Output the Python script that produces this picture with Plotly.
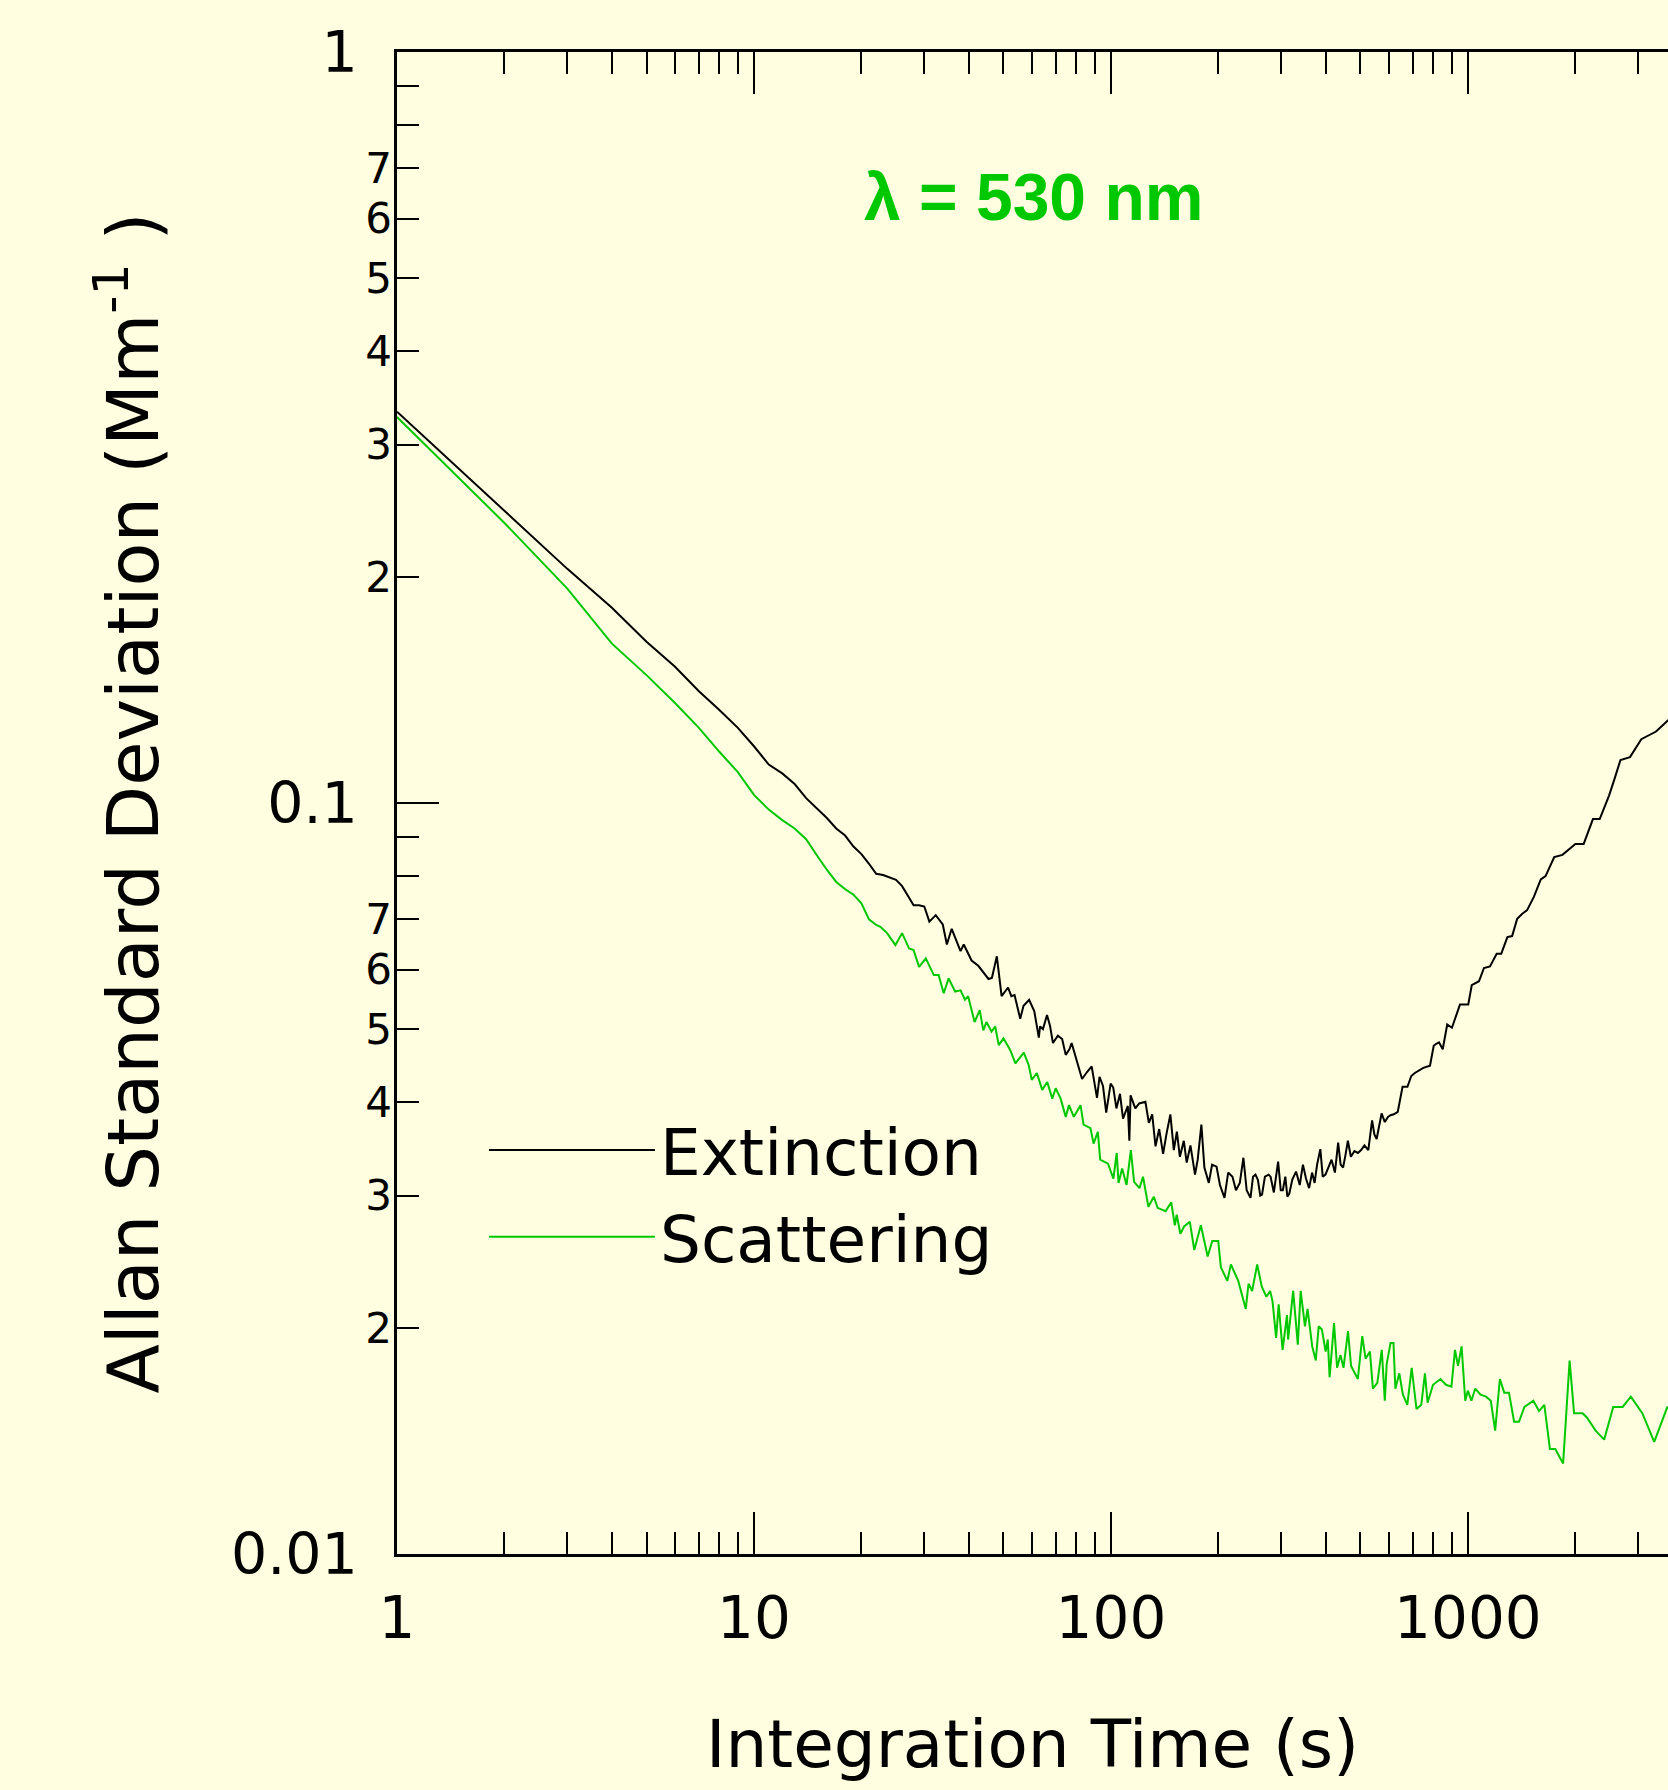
import plotly.graph_objects as go

# ---------------- data ----------------
ext_tau = [1, 2, 3, 4, 5, 6, 7, 8, 9, 10,
           11, 12, 13, 14, 15, 16, 17, 18, 19, 20,
           21, 22, 23, 24, 25, 26, 27, 28, 29, 30,
           31, 32.3, 33.8, 34.7, 35.8, 37.9, 38.7, 40.7, 42.5, 44,
           45.4, 46.4, 47.9, 49.4, 51.5, 52.6, 53.7, 55.7, 56.9, 59,
           61, 62.8, 63.3, 64.5, 66.2, 67.5, 68.8, 71, 73, 74.7,
           76.5, 77.6, 80, 83, 85.6, 88.3, 91.4, 92.9, 95, 97,
           99.8, 101.5, 103.6, 106, 108.1, 111.5, 112.6, 113.5, 117, 120,
           124.9, 127.7, 130.5, 133.3, 136.5, 140, 143, 146.7, 150, 153,
           156, 160, 163, 167, 172, 175, 179.2, 182.7, 188, 192,
           197.6, 202, 208, 213, 219, 224, 229.6, 235, 240, 246,
           250, 254, 258, 262, 265, 270, 276.5, 280, 286, 290,
           294, 299, 303, 308, 312, 316, 322, 330, 338, 345,
           352, 359, 366, 372, 378, 386, 392, 399, 407, 415,
           424, 433, 440, 447, 454, 461, 470, 481, 492, 502,
           513, 526, 539, 547, 555, 565, 573, 585, 597, 607,
           620, 636, 656, 677, 694, 710, 725, 750, 783, 802,
           815, 830, 850, 875, 902, 925, 950, 1002, 1025, 1074,
           1109, 1153, 1204, 1240, 1290, 1330, 1374, 1420, 1465, 1530,
           1600, 1650, 1745, 1840, 2000, 2110, 2240, 2340, 2485, 2580,
           2675, 2845, 3060, 3365, 3630, 3900]
extinction = [0.332, 0.245, 0.205, 0.182, 0.164, 0.152, 0.141, 0.133, 0.126, 0.119,
              0.1125, 0.1095, 0.106, 0.1015, 0.0985, 0.0955, 0.0925, 0.0905, 0.0875, 0.0855,
              0.0830, 0.0805, 0.0802, 0.0795, 0.0790, 0.0775, 0.0752, 0.0731, 0.0731, 0.0728,
              0.0695, 0.0709, 0.0689, 0.0648, 0.0680, 0.0635, 0.0648, 0.0617, 0.0607, 0.0595,
              0.0583, 0.0585, 0.0625, 0.0553, 0.0568, 0.0553, 0.0555, 0.0516, 0.0537, 0.0547,
              0.0528, 0.0487, 0.0504, 0.0500, 0.0522, 0.0505, 0.0479, 0.0490, 0.0485, 0.0462,
              0.0470, 0.0479, 0.0455, 0.0429, 0.0438, 0.0446, 0.0405, 0.0432, 0.0420, 0.0387,
              0.0423, 0.0418, 0.0392, 0.0410, 0.0380, 0.0395, 0.0355, 0.0408, 0.0392, 0.0398,
              0.0400, 0.0375, 0.0385, 0.0349, 0.0368, 0.0341, 0.0362, 0.0385, 0.0345, 0.0365,
              0.0338, 0.0355, 0.0332, 0.0350, 0.0320, 0.0335, 0.0373, 0.0327, 0.0312, 0.0330,
              0.0328, 0.0310, 0.0298, 0.0322, 0.0318, 0.0305, 0.0312, 0.0337, 0.0305, 0.0298,
              0.0318, 0.0320, 0.0315, 0.0300, 0.0301, 0.0318, 0.0320, 0.0318, 0.0303, 0.0318,
              0.0333, 0.0305, 0.0305, 0.0318, 0.0299, 0.0302, 0.0315, 0.0323, 0.0310, 0.0330,
              0.0316, 0.0307, 0.0322, 0.0312, 0.0330, 0.0346, 0.0318, 0.0320, 0.0328, 0.0335,
              0.0322, 0.0353, 0.0330, 0.0327, 0.0340, 0.0355, 0.0338, 0.0344, 0.0342, 0.0345,
              0.0350, 0.0345, 0.0378, 0.0362, 0.0357, 0.0372, 0.0386, 0.0376, 0.0382, 0.0384,
              0.0385, 0.0388, 0.0419, 0.0419, 0.0433, 0.0437, 0.0440, 0.0444, 0.0447, 0.0475,
              0.0478, 0.0480, 0.0470, 0.0507, 0.0502, 0.0520, 0.0539, 0.0539, 0.0572, 0.0579,
              0.0603, 0.0606, 0.0630, 0.0630, 0.0663, 0.0665, 0.0701, 0.0712, 0.0720, 0.0750,
              0.0791, 0.0799, 0.0847, 0.0853, 0.0882, 0.0882, 0.0952, 0.0952, 0.1023, 0.1080,
              0.1141, 0.1151, 0.1216, 0.1245, 0.1287, 0.1330]

sca_tau = [1, 2, 3, 4, 5, 6, 7, 8, 9, 10,
           11, 12, 13, 14, 15, 16, 17, 18, 19, 20,
           21, 22, 22.6, 23.6, 24.9, 26, 27.2, 28, 29, 30.3,
           31.9, 32.9, 34, 35.1, 36.6, 37.9, 39, 39.8, 41.5, 42.9,
           43.9, 44.8, 46.3, 47.4, 48.5, 50, 52.2, 54, 57, 58.8,
           60, 62, 64.2, 66.3, 68.5, 70, 72.3, 74.7, 76.3, 78.7,
           82.2, 83.8, 87.6, 89.4, 91.9, 93.3, 98.1, 101.6, 103.8, 105,
           107.5, 110.6, 113.7, 116.1, 120.2, 123, 127.3, 131.9, 135.1, 142.3,
           147.5, 151, 152.8, 156.5, 160.3, 166.3, 171.2, 178.6, 186.6, 192.2,
           199.8, 203.2, 211.8, 216.8, 227.3, 238.6, 242.9, 248.6, 256.8, 264.6,
           272.6, 279.2, 283.6, 290.2, 295, 302.6, 311.3, 313.5, 323.9, 333.8,
           340, 349.5, 355.4, 366.3, 374.8, 381.9, 389.9, 399.4, 405, 409.8,
           421.7, 430, 439.5, 448.2, 461.4, 470.6, 491.6, 505.9, 516.8, 531.5,
           541.8, 557.5, 573.7, 585.1, 592.2, 607.1, 618.7, 626.3, 642.4, 657.5,
           676.4, 695.8, 717.6, 740.1, 758, 771, 798.5, 838, 868, 899,
           920, 938, 960, 983, 999.5, 1023, 1048, 1085, 1124, 1159,
           1192, 1229, 1264, 1303, 1347, 1390, 1440, 1525, 1582, 1637,
           1697, 1757, 1848, 1927, 1983, 2095, 2154, 2279, 2408, 2553,
           2713, 2860, 3080, 3326, 3620, 3900]
scattering = [0.3265, 0.236, 0.193, 0.163, 0.148, 0.136, 0.126, 0.117, 0.110, 0.1025,
              0.0980, 0.0949, 0.0925, 0.0895, 0.0852, 0.0815, 0.0785, 0.0768, 0.0755, 0.0735,
              0.0700, 0.0688, 0.0684, 0.0671, 0.0647, 0.0671, 0.0640, 0.0637, 0.0605, 0.0621,
              0.0590, 0.0590, 0.0558, 0.0584, 0.0561, 0.0563, 0.0547, 0.0553, 0.0511, 0.0530,
              0.0498, 0.0511, 0.0496, 0.0504, 0.0476, 0.0486, 0.0469, 0.0450, 0.0465, 0.0448,
              0.0428, 0.0437, 0.0415, 0.0425, 0.0404, 0.0417, 0.0404, 0.0382, 0.0396, 0.0382,
              0.0396, 0.0373, 0.0369, 0.0352, 0.0365, 0.0335, 0.0331, 0.0316, 0.0342, 0.0312,
              0.0326, 0.0310, 0.0345, 0.0313, 0.0307, 0.0318, 0.0290, 0.0299, 0.0289, 0.0286,
              0.0294, 0.0274, 0.0283, 0.0267, 0.0273, 0.0277, 0.0254, 0.0274, 0.0249, 0.0261,
              0.0261, 0.0241, 0.0231, 0.0243, 0.0231, 0.0212, 0.0229, 0.0224, 0.0243, 0.0227,
              0.0220, 0.0224, 0.0217, 0.0194, 0.0215, 0.0187, 0.0208, 0.0193, 0.0224, 0.0190,
              0.0224, 0.0201, 0.0212, 0.0189, 0.0181, 0.0201, 0.0199, 0.0186, 0.0193, 0.0172,
              0.0203, 0.0177, 0.0184, 0.0177, 0.0198, 0.0178, 0.0171, 0.0195, 0.0182, 0.0186,
              0.0166, 0.0169, 0.0187, 0.0160, 0.0179, 0.0191, 0.0191, 0.0166, 0.0174, 0.0163,
              0.0158, 0.0177, 0.0156, 0.0158, 0.0174, 0.0159, 0.0168, 0.0171, 0.0168, 0.0167,
              0.0187, 0.0178, 0.0189, 0.0160, 0.0165, 0.0160, 0.0166, 0.0163, 0.0162, 0.0160,
              0.0146, 0.0171, 0.0164, 0.0164, 0.0150, 0.0150, 0.0157, 0.0160, 0.0155, 0.0158,
              0.0138, 0.0138, 0.0132, 0.0181, 0.0154, 0.0154, 0.0152, 0.0146, 0.0142, 0.0157,
              0.0157, 0.0162, 0.0154, 0.0141, 0.0157, 0.0150]

assert len(ext_tau) == len(extinction)
assert len(sca_tau) == len(scattering)

# tick values / labels
x_major = [1, 10, 100, 1000]
x_major_text = ["1", "10", "100", "1000"]
x_minor = [m * d for d in (1, 10, 100, 1000) for m in range(2, 10)]
y_major = [0.01, 0.1, 1]
y_major_text = ["0.01", "0.1", "1"]
y_labeled = [m * d for d in (0.01, 0.1) for m in range(2, 8)]
y_labeled_text = [str(m) for d in (0.01, 0.1) for m in range(2, 8)]
y_unlabeled = [m * d for d in (0.01, 0.1) for m in (8, 9)]

# ---------------- styling ----------------
BG = "#FFFEE0"
GREEN = "#00C800"
FONT = "DejaVu Sans"
W, H = 1668, 1790
ML, MR, MT, MB = 397, 0, 52, 236

fig = go.Figure()
fig.add_trace(go.Scatter(x=ext_tau, y=extinction, mode="lines", name="Extinction",
                         line=dict(color="black", width=2)))
fig.add_trace(go.Scatter(x=sca_tau, y=scattering, mode="lines", name="Scattering",
                         line=dict(color=GREEN, width=2)))
# carrier for the minor-label y axis
fig.add_trace(go.Scatter(x=[], y=[], yaxis="y2", showlegend=False, hoverinfo="skip"))

fig.update_layout(
    width=W, height=H,
    margin=dict(l=ML, r=MR, t=MT, b=MB, pad=0),
    paper_bgcolor=BG, plot_bgcolor=BG,
    font=dict(family=FONT, color="black"),
    showlegend=True,
    legend=dict(x=0.0684, y=0.240, xanchor="left", yanchor="middle",
                bgcolor="rgba(0,0,0,0)", borderwidth=0,
                font=dict(size=64.5, family=FONT, color="black"),
                itemwidth=166, tracegroupgap=0),
    xaxis=dict(type="log", range=[0, 3.5605],
               tickmode="array", tickvals=x_major, ticktext=x_major_text,
               ticks="inside", ticklen=42, tickwidth=2.2, tickcolor="black",
               showline=True, linewidth=2.5, linecolor="black", mirror="ticks",
               showgrid=False, zeroline=False, automargin=False,
               tickfont=dict(size=58, family=FONT, color="black"),
               ticklabelstandoff=12,
               minor=dict(tickvals=x_minor, ticks="inside", ticklen=22,
                          tickwidth=2.2, tickcolor="black", showgrid=False),
               title=dict(text="Integration Time (s)",
                          font=dict(size=66, family=FONT, color="black"),
                          standoff=70)),
    yaxis=dict(type="log", range=[-2, 0],
               tickmode="array", tickvals=y_major, ticktext=y_major_text,
               ticks="inside", ticklen=42, tickwidth=2.2, tickcolor="black",
               showline=True, linewidth=2.5, linecolor="black", mirror=False,
               showgrid=False, zeroline=False, automargin=False,
               tickfont=dict(size=57, family=FONT, color="black"),
               ticklabelstandoff=25,
               title=dict(text="Allan Standard Deviation (Mm<sup>-1</sup> )",
                          font=dict(size=72, family=FONT, color="black"),
                          standoff=49)),
    yaxis2=dict(type="log", range=[-2, 0], overlaying="y", anchor="x", side="left",
                tickmode="array", tickvals=y_labeled, ticktext=y_labeled_text,
                ticks="inside", ticklen=22, tickwidth=2.2, tickcolor="black",
                showline=False, showgrid=False, zeroline=False, automargin=False,
                tickfont=dict(size=42, family=FONT, color="black"),
                ticklabelstandoff=4,
                minor=dict(tickvals=y_unlabeled, ticks="inside", ticklen=22,
                           tickwidth=2.2, tickcolor="black", showgrid=False)),
    annotations=[dict(text="<b>λ = 530 nm</b>", x=0.5004, y=0.9035,
                      xref="paper", yref="paper", xanchor="center", yanchor="middle",
                      showarrow=False,
                      font=dict(size=66, family="Liberation Sans", color=GREEN))],
)

fig.write_html(
    "out.html",
    config={"displayModeBar": False},
    post_script="document.body.style.margin='0';"
                "document.body.style.background='" + BG + "';",
)
